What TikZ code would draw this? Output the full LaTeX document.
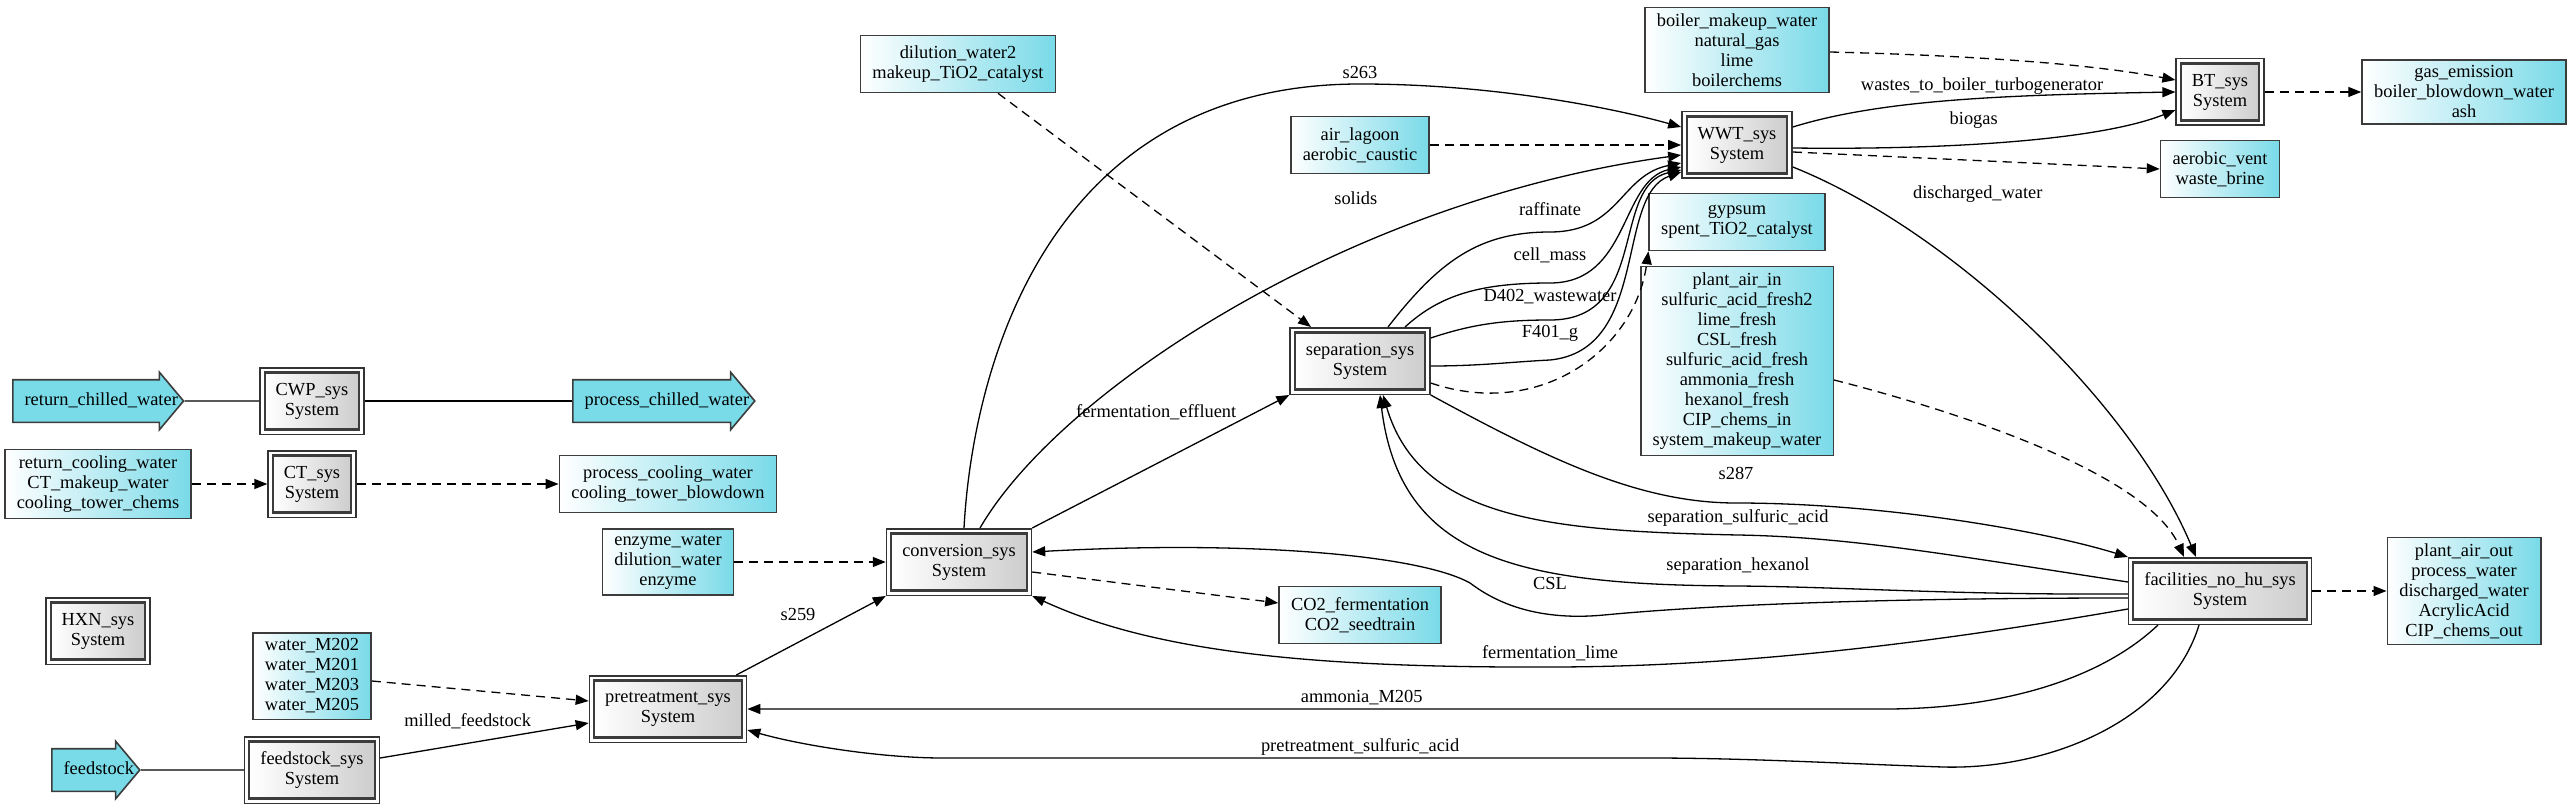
\documentclass[tikz,border=0pt]{standalone}
\usepackage{fontspec}
\setmainfont{Liberation Serif}
\usepackage{tikz}
\usetikzlibrary{positioning, arrows.meta, shapes.arrows}

\definecolor{streamcyan}{HTML}{79DAE8}
\definecolor{unitgray}{HTML}{CDCDCD}
\definecolor{rimgray}{HTML}{3C3C3C}

\tikzset{
  unit/.style={draw=rimgray, line width=2.2pt, left color=white, right color=unitgray,
    preaction={draw=black!80, line width=11pt}, preaction={draw=white, line width=8pt},
    outer sep=5.5pt, minimum height=57pt, inner xsep=11pt, align=center},
  stream/.style={draw=rimgray, line width=1.6pt, left color=white, right color=streamcyan,
    minimum height=57pt, inner xsep=12pt, inner ysep=6pt, align=center},
  feedarrow/.style={single arrow, draw=rimgray, line width=1.6pt, fill=streamcyan,
    single arrow head extend=7.5pt, single arrow tip angle=100,
    text height=13pt, text depth=4pt, inner xsep=11pt, inner ysep=12pt, anchor=west,
    execute at end node={\hspace*{-24pt}}},
  lbl/.style={inner sep=1pt},
  flow/.style={line width=1.3pt, -{Triangle[length=13pt, width=10pt]}},
  dflow/.style={flow, dash pattern=on 9pt off 6pt},
  plain/.style={line width=1.3pt},
}

\begin{document}
\begin{tikzpicture}[x=1pt, y=-1pt, font=\fontsize{18.4}{20}\selectfont]
  \useasboundingbox (0,0) rectangle (2571,810);

  % units
  \node[unit] (cwp) at (312,401) {CWP\_sys\\System};
  \node[unit] (ct) at (312,484) {CT\_sys\\System};
  \node[unit] (hxn) at (98,631) {HXN\_sys\\System};
  \node[unit] (fsys) at (312,770) {feedstock\_sys\\System};
  \node[unit] (pre) at (668,709) {pretreatment\_sys\\System};
  \node[unit] (conv) at (959,562) {conversion\_sys\\System};
  \node[unit] (sep) at (1360,361) {separation\_sys\\System};
  \node[unit] (wwt) at (1737,145) {WWT\_sys\\System};
  \node[unit] (bt) at (2220,92) {BT\_sys\\System};
  \node[unit] (fac) at (2220,591) {facilities\_no\_hu\_sys\\System};

  % feeds and products
  \node[feedarrow] (rcw) at (12,401) {return\_chilled\_water};
  \node[feedarrow] (pcw) at (572,401) {process\_chilled\_water};
  \node[feedarrow] (feed) at (51,770) {feedstock};
  \node[stream] (rcool) at (98,484) {return\_cooling\_water\\CT\_makeup\_water\\cooling\_tower\_chems};
  \node[stream] (pcool) at (668,484) {process\_cooling\_water\\cooling\_tower\_blowdown};
  \node[stream] (enz) at (668,562) {enzyme\_water\\dilution\_water\\enzyme};
  \node[stream] (wm) at (312,676) {water\_M202\\water\_M201\\water\_M203\\water\_M205};
  \node[stream] (co2) at (1360,615) {CO2\_fermentation\\CO2\_seedtrain};
  \node[stream] (dil) at (958,64) {dilution\_water2\\makeup\_TiO2\_catalyst};
  \node[stream] (air) at (1360,145) {air\_lagoon\\aerobic\_caustic};
  \node[stream] (bmw) at (1737,50) {boiler\_makeup\_water\\natural\_gas\\lime\\boilerchems};
  \node[stream] (gyp) at (1737,222) {gypsum\\spent\_TiO2\_catalyst};
  \node[stream] (pai) at (1737,361) {plant\_air\_in\\sulfuric\_acid\_fresh2\\lime\_fresh\\CSL\_fresh\\sulfuric\_acid\_fresh\\ammonia\_fresh\\hexanol\_fresh\\CIP\_chems\_in\\system\_makeup\_water};
  \node[stream] (gas) at (2464,92) {gas\_emission\\boiler\_blowdown\_water\\ash};
  \node[stream] (av) at (2220,169) {aerobic\_vent\\waste\_brine};
  \node[stream] (pao) at (2464,591) {plant\_air\_out\\process\_water\\discharged\_water\\AcrylicAcid\\CIP\_chems\_out};

  % left part
  \draw[plain] (rcw.east) -- (cwp.west);
  \draw[plain] (cwp.east) -- (pcw.west);
  \draw[dflow] (rcool.east) -- (ct.west);
  \draw[dflow] (ct.east) -- (pcool.west);
  \draw[plain] (feed.east) -- (fsys.west);
  \draw[flow] ([yshift=12pt]fsys.east) -- node[lbl, pos=.42, yshift=22pt]{milled\_feedstock} ([yshift=-14pt]pre.west);
  \draw[dflow] ([yshift=-5pt]wm.east) -- ([yshift=8pt]pre.west);
  \draw[dflow] (enz.east) -- (conv.west);
  \draw[flow] ([xshift=-11pt]pre.north east) -- node[lbl, pos=.5, xshift=-13pt, yshift=21pt]{s259} (conv.south west);
  \draw[dflow] ([yshift=-10pt]conv.east) -- ([yshift=12pt]co2.west);
  \draw[flow] (conv.north east) -- node[lbl, pos=.8, anchor=south east]{fermentation\_effluent} (sep.south west);
  \draw[flow] ([xshift=5pt]conv.north) .. controls (972,380) and (1040,84) .. (1360,84) node[lbl, yshift=11pt]{s263}
    .. controls (1500,84) and (1620,110) .. ([yshift=18pt]wwt.west);
  \draw[flow] ([xshift=21pt]conv.north) .. controls (1060,390) and (1350,200) .. node[lbl, pos=.65, yshift=49pt]{solids} ([yshift=-10pt]wwt.west);
  \draw[dflow] ([xshift=40pt]dil.south) -- ([xshift=-49pt]sep.north);
  \draw[dflow] (air.east) -- (wwt.west);

  % separation to wastewater
  \draw[flow] ([xshift=28pt]sep.north) .. controls (1440,260) and (1480,232) .. (1550,232) node[lbl, yshift=23pt]{raffinate}
    .. controls (1620,232) and (1620,175) .. ([yshift=-18pt]wwt.west);
  \draw[flow] ([xshift=45pt]sep.north) .. controls (1440,295) and (1480,283) .. (1550,283) node[lbl, yshift=28pt]{cell\_mass}
    .. controls (1630,283) and (1620,180) .. ([yshift=-22pt]wwt.west);
  \draw[flow] ([yshift=23pt]sep.east) .. controls (1470,325) and (1500,320) .. (1550,320) node[lbl, yshift=23pt]{D402\_wastewater}
    .. controls (1650,320) and (1610,185) .. ([yshift=-25pt]wwt.west);
  \draw[flow] ([yshift=-5pt]sep.east) .. controls (1480,366) and (1510,362) .. (1550,360) node[lbl, yshift=27pt]{F401\_g}
    .. controls (1650,350) and (1615,195) .. ([yshift=-27pt]wwt.west);
  \draw[dflow] ([yshift=-22pt]sep.east) .. controls (1540,420) and (1635,350) .. (gyp.south west);
  \draw[flow] (sep.south east) .. controls (1550,460) and (1640,503) .. (1736,503) node[lbl, yshift=30pt]{s287}
    .. controls (1880,503) and (2040,530) .. (fac.north west);

  % facilities returns
  \draw[flow] ([yshift=9pt]fac.west) .. controls (1950,555) and (1850,537) .. (1738,535) node[lbl, yshift=17pt]{separation\_sulfuric\_acid}
    .. controls (1550,531) and (1420,520) .. ([xshift=23pt]sep.south);
  \draw[flow] ([yshift=-3pt]fac.west) .. controls (1950,595) and (1850,587) .. (1738,586) node[lbl, yshift=20pt]{separation\_hexanol}
    .. controls (1520,585) and (1400,560) .. ([xshift=20pt]sep.south);
  \draw[flow] ([yshift=-7pt]fac.west) .. controls (1900,598) and (1720,604) .. (1604,615) node[lbl, xshift=-54pt, yshift=32pt]{CSL}
    .. controls (1530,622) and (1490,598) .. (1470,583) .. controls (1420,555) and (1250,540) .. ([yshift=10pt]conv.east);
  \draw[flow] ([yshift=-18pt]fac.west) .. controls (1950,640) and (1750,667) .. (1550,667) node[lbl, yshift=14pt]{fermentation\_lime}
    .. controls (1300,668) and (1150,650) .. (conv.south east);
  \draw[flow] ([xshift=-62pt]fac.south) .. controls (2100,680) and (2000,709) .. (1885,709)
    -- node[lbl, pos=.46, yshift=11pt]{ammonia\_M205} (pre.east);
  \draw[flow] ([xshift=-21pt]fac.south) .. controls (2170,720) and (2050,770) .. (1943,767)
    .. controls (1850,764) and (1750,758) .. (1650,758) -- node[lbl, pos=.41, yshift=11pt]{pretreatment\_sulfuric\_acid} (943,758)
    .. controls (880,758) and (800,745) .. ([yshift=-21pt]pre.east);
  \draw[dflow] ([yshift=-19pt]pai.east) .. controls (1990,420) and (2150,480) .. ([xshift=-36pt]fac.north);
  \draw[dflow] (fac.east) -- (pao.west);

  % wastewater and boiler
  \draw[flow] ([yshift=-22pt]wwt.east) .. controls (1950,230) and (2130,400) .. node[lbl, pos=.3, xshift=41pt, yshift=55pt]{discharged\_water} ([xshift=-24pt]fac.north);
  \draw[flow] ([yshift=18pt]wwt.east) .. controls (1880,100) and (2000,95) .. node[lbl, pos=.58, yshift=12pt]{wastes\_to\_boiler\_turbogenerator} (bt.west);
  \draw[flow] ([yshift=-3pt]wwt.east) .. controls (1950,150) and (2100,140) .. node[lbl, pos=.4, yshift=24pt]{biogas} ([yshift=-18pt]bt.west);
  \draw[dflow] ([yshift=-7pt]wwt.east) -- (av.west);
  \draw[dflow] ([yshift=-2pt]bmw.east) .. controls (1950,55) and (2080,62) .. ([yshift=12pt]bt.west);
  \draw[dflow] (bt.east) -- (gas.west);
\end{tikzpicture}
\end{document}
